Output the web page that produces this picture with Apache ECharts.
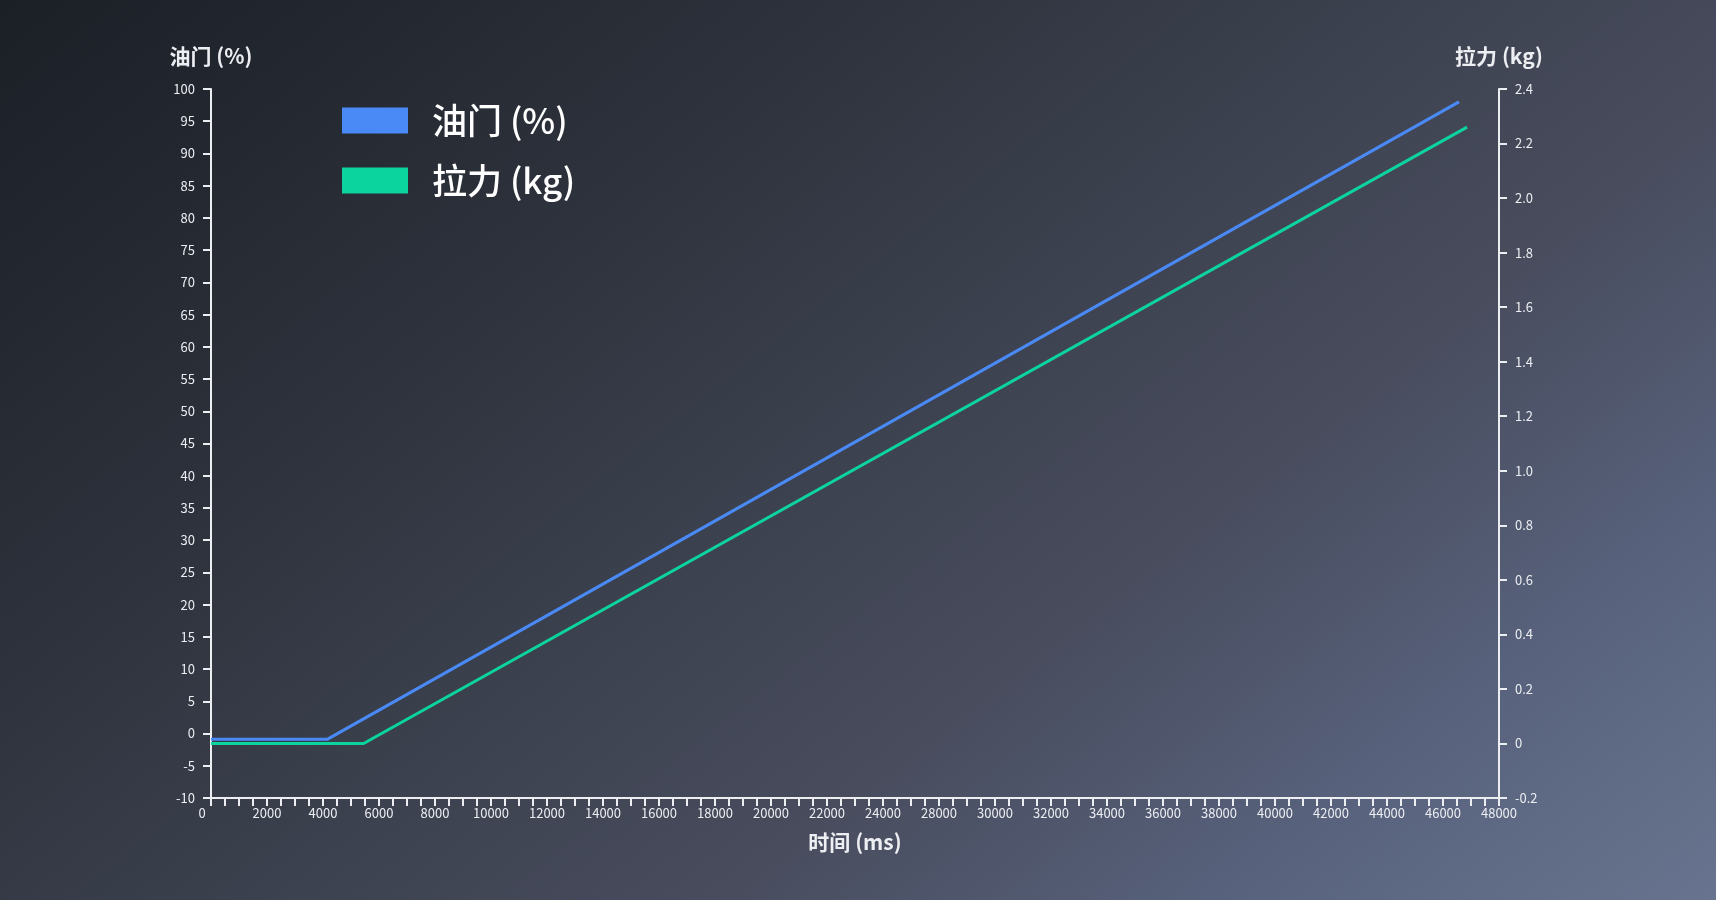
<!DOCTYPE html>
<html>
<head>
<meta charset="utf-8">
<title>油门 / 拉力</title>
<script src="https://cdn.jsdelivr.net/npm/echarts@6/dist/echarts.min.js"></script>
<style>
  html, body { margin: 0; padding: 0; width: 100%; height: 100%; overflow: hidden; background: #1b1f26; }
  #chart { width: 1716px; height: 900px; }
</style>
</head>
<body>
<div id="chart"></div>
<script>
// x tick labels as printed on the picture (26000 is skipped there)
var xTickLabels = ['0', '2000', '4000', '6000', '8000', '10000', '12000', '14000', '16000',
  '18000', '20000', '22000', '24000', '28000', '30000', '32000', '34000', '36000', '38000',
  '40000', '42000', '44000', '46000', '48000'];

// series points [x on the axis scale, value]
var throttleData = [[0, -0.9], [4150, -0.9], [44570, 98]];
var thrustData = [[0, 0], [5450, 0], [44860, 2.26]];

var seriesNames = ['油门 (%)', '拉力 (kg)'];
var seriesColors = ['#4a8af6', '#0cd49f'];

var font = '"Noto Sans CJK SC", "Noto Sans", sans-serif';
var fg = '#eceef2';

var chart = echarts.init(document.getElementById('chart'));

var axisCommon = {
  axisLine: { show: true, onZero: false, lineStyle: { color: fg, width: 2 } },
  axisTick: { show: true, length: 8, lineStyle: { color: fg, width: 2 } },
  axisLabel: { color: fg, fontSize: 13, fontFamily: font, margin: 16 },
  splitLine: { show: false },
  nameTextStyle: { color: fg, fontSize: 21, fontWeight: 'bold', fontFamily: font }
};

var option = {
  backgroundColor: {
    type: 'linear', x: 0, y: 0, x2: 0.64, y2: 1.54,
    colorStops: [
      { offset: 0, color: '#1b1f26' },
      { offset: 0.3, color: '#2d323c' },
      { offset: 0.5, color: '#3d4250' },
      { offset: 0.65, color: '#484c5d' },
      { offset: 0.82, color: '#57617b' },
      { offset: 1, color: '#68748f' }
    ]
  },
  animation: false,
  grid: { left: 211, right: 217, top: 89, bottom: 102, containLabel: false },
  legend: {
    left: 342, top: 103,
    orient: 'vertical',
    icon: 'rect',
    itemWidth: 66, itemHeight: 26, itemGap: 25,
    padding: 0,
    data: seriesNames,
    textStyle: { color: '#ffffff', fontSize: 35, fontWeight: 500, fontFamily: font, padding: [0, 0, 0, 19] }
  },
  xAxis: Object.assign({}, axisCommon, {
    type: 'value',
    min: 0, max: 46000, interval: 2000,
    name: '时间 (ms)',
    nameLocation: 'middle',
    nameGap: 34,
    minorTick: { show: true, splitNumber: 4, length: 8, lineStyle: { color: fg, width: 2 } },
    minorSplitLine: { show: false },
    axisLabel: Object.assign({}, axisCommon.axisLabel, {
      margin: 9,
      formatter: function (v) {
        var lab = xTickLabels[Math.round(v / 2000)];
        return v === 0 ? '{first|' + lab + '}' : lab;
      },
      rich: { first: { color: fg, fontSize: 13, fontFamily: font, padding: [0, 18, 0, 0] } }
    })
  }),
  yAxis: [
    Object.assign({}, axisCommon, {
      type: 'value',
      position: 'left',
      min: -10, max: 100, interval: 5,
      name: '油门 (%)',
      nameLocation: 'end',
      nameGap: 22
    }),
    Object.assign({}, axisCommon, {
      type: 'value',
      position: 'right',
      min: -0.2, max: 2.4, interval: 0.2,
      name: '拉力 (kg)',
      nameLocation: 'end',
      nameGap: 22,
      axisLabel: Object.assign({}, axisCommon.axisLabel, {
        formatter: function (v) {
          return Math.abs(v) < 1e-9 ? '0' : v.toFixed(1);
        }
      })
    })
  ],
  series: [
    {
      name: seriesNames[0],
      type: 'line',
      yAxisIndex: 0,
      data: throttleData,
      showSymbol: false,
      symbol: 'none',
      color: seriesColors[0],
      lineStyle: { color: seriesColors[0], width: 3 }
    },
    {
      name: seriesNames[1],
      type: 'line',
      yAxisIndex: 1,
      data: thrustData,
      showSymbol: false,
      symbol: 'none',
      color: seriesColors[1],
      lineStyle: { color: seriesColors[1], width: 3 }
    }
  ]
};

chart.setOption(option);
</script>
</body>
</html>
